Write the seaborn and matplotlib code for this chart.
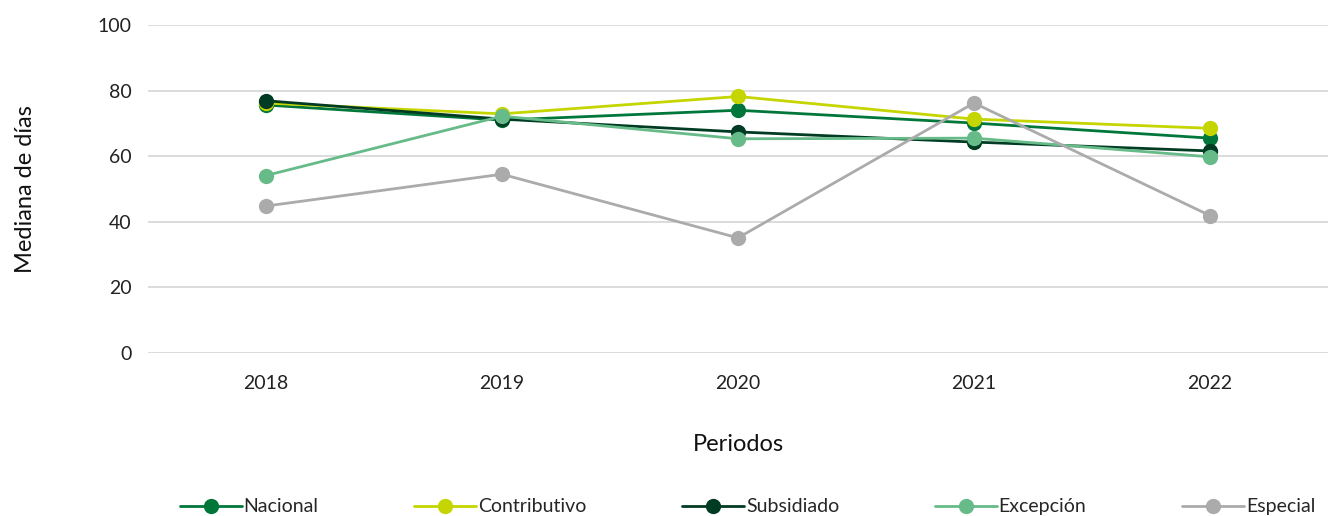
import numpy as np
import pandas as pd
import matplotlib.pyplot as plt
import seaborn as sns

periodos = ['2018', '2019', '2020', '2021', '2022']
nacional = [75.6, 71.0, 74.0, 70.1, 65.5]
contributivo = [76.2, 72.9, 78.2, 71.3, 68.5]
subsidiado = [76.9, 71.3, 67.4, 64.3, 61.6]
excepcion = [54.1, 72.2, 65.3, 65.5, 59.8]
especial = [44.8, 54.5, 35.1, 76.2, 41.9]

series = ['Nacional', 'Contributivo', 'Subsidiado', 'Excepción', 'Especial']
colores = ['#00773A', '#C5D500', '#003C23', '#66BB88', '#ABABAB']

df = pd.DataFrame({
    'Periodo': periodos * 5,
    'Valor': nacional + contributivo + subsidiado + excepcion + especial,
    'Serie': np.repeat(series, 5),
})

sns.set_style('white')
plt.rcParams['font.family'] = ['Lato', 'DejaVu Sans']

fig, ax = plt.subplots(figsize=(13.28, 5.16), dpi=100)
fig.subplots_adjust(left=0.1114, right=1.0, top=0.9516, bottom=0.3159)

sns.lineplot(data=df, x='Periodo', y='Valor', hue='Serie', hue_order=series,
             palette=colores, marker='o', markersize=11, markeredgewidth=0,
             linewidth=2, ax=ax, sort=False)

ax.set_ylim(0, 100)
ax.set_yticks(range(0, 101, 20))
ax.set_xlim(-0.5, 4.5)
ax.yaxis.grid(True, color='#d9d9d9', linewidth=1.3)
ax.set_axisbelow(True)
sns.despine(ax=ax, left=True, bottom=True)
ax.tick_params(axis='both', length=0, labelsize=14, colors='#222222', pad=12)
ax.tick_params(axis='x', pad=16)
ax.set_xlabel('Periodos', fontsize=17, color='#111111', labelpad=30)
ax.set_ylabel('Mediana de días', fontsize=17, color='#111111', labelpad=44)

ax.legend(loc='upper center', bbox_to_anchor=(0.508, -0.39), ncol=5,
          frameon=False, fontsize=14, handlelength=3.2, handletextpad=0.1,
          columnspacing=4.9)

fig.savefig('out.png', dpi=100)
